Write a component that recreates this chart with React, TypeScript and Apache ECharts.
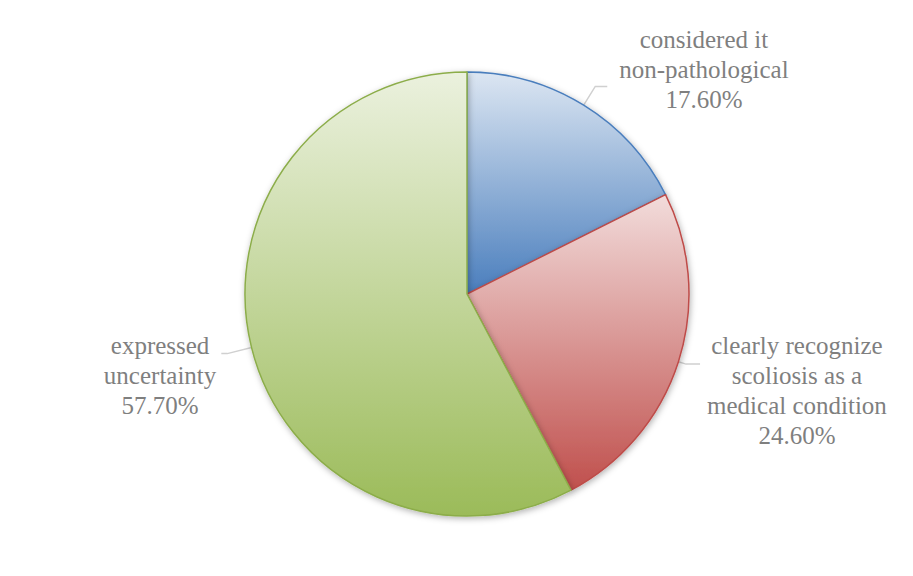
import React, { useEffect, useRef } from "react";
import * as echarts from "echarts";

const categories = [
  "considered it\nnon-pathological",
  "clearly recognize\nscoliosis as a\nmedical condition",
  "expressed\nuncertainty",
];
const values = [17.6, 24.6, 57.7];

const FONT = "Times New Roman";

const sliceStyles = [
  { top: "#dce6f2", bottom: "#4a7ebd", border: "#4a7ebd", length: 22, length2: 12, distance: 12, padding: [0, 0, 34, 0] },
  { top: "#f2dcdb", bottom: "#c0504d", border: "#be4b48", length: 8, length2: 14, distance: 7, padding: [52, 0, 0, 0] },
  { top: "#ebf1de", bottom: "#9bbb59", border: "#8cad4a", length: 25, length2: 6, distance: 5, padding: [44, 0, 0, 0] },
];

export default function App() {
  const ref = useRef<HTMLDivElement>(null);
  useEffect(() => {
    document.body.style.margin = "0";
    if (!ref.current) return;
    const chart = echarts.init(ref.current, undefined, { renderer: "svg" });
    const data = categories.map((name, i) => {
      const s = sliceStyles[i];
      return {
        name,
        value: values[i],
        itemStyle: {
          color: new echarts.graphic.LinearGradient(0, 0, 0, 1, [
            { offset: 0, color: s.top },
            { offset: 1, color: s.bottom },
          ]),
          borderColor: s.border,
        },
        labelLine: { length: s.length, length2: s.length2 },
        label: { distanceToLabelLine: s.distance, padding: s.padding },
      };
    });
    chart.setOption({
      animation: false,
      backgroundColor: "#ffffff",
      textStyle: { fontFamily: FONT },
      series: [
        {
          type: "pie",
          center: [467, 294],
          radius: 222,
          startAngle: 90,
          clockwise: true,
          avoidLabelOverlap: false,
          data,
          itemStyle: {
            borderWidth: 1.5,
            shadowBlur: 6,
            shadowOffsetX: 1,
            shadowOffsetY: 2,
            shadowColor: "rgba(0,0,0,0.3)",
          },
          label: {
            show: true,
            position: "outside",
            formatter: (p: any) => {
              const lines = String(p.name).split("\n");
              lines.push(p.value.toFixed(2) + "%");
              return lines.map((l) => "{a|" + l + "}").join("\n");
            },
            rich: {
              a: {
                align: "center",
                fontFamily: FONT,
                fontSize: 25,
                lineHeight: 30,
                color: "#7f7f7f",
              },
            },
            color: "#7f7f7f",
            fontFamily: FONT,
            fontSize: 25,
            lineHeight: 30,
          },
          labelLine: {
            show: true,
            smooth: false,
            lineStyle: { color: "#d0d0d0", width: 1.5 },
          },
        },
      ],
    });
    return () => chart.dispose();
  }, []);
  return <div ref={ref} style={{ width: 913, height: 576 }} />;
}
